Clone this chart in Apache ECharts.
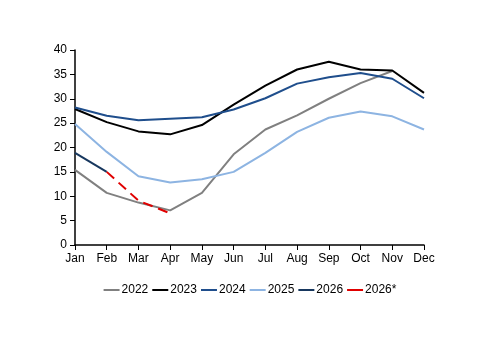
<!DOCTYPE html>
<html>
<head>
<meta charset="utf-8">
<script src="https://cdn.jsdelivr.net/npm/echarts@6/dist/echarts.min.js"></script>
<style>
html, body { margin: 0; padding: 0; background: #fff; }
#chart { width: 500px; height: 353px; }
</style>
</head>
<body>
<div id="chart"></div>
<script>
const months = ['Jan', 'Feb', 'Mar', 'Apr', 'May', 'Jun', 'Jul', 'Aug', 'Sep', 'Oct', 'Nov', 'Dec']
const y2022 = [15.4, 10.7, 8.7, 7.1, 10.7, 18.6, 23.7, 26.6, 30.0, 33.2, 35.7, null]
const y2023 = [27.9, 25.2, 23.3, 22.7, 24.6, 28.8, 32.7, 36.0, 37.6, 36.0, 35.8, 31.2]
const y2024 = [28.2, 26.5, 25.6, 25.9, 26.2, 27.8, 30.1, 33.1, 34.4, 35.3, 34.1, 30.1]
const y2025 = [24.8, 19.1, 14.1, 12.8, 13.5, 15.0, 18.9, 23.2, 26.1, 27.4, 26.4, 23.7]
const y2026 = [18.9, 15.0, null, null, null, null, null, null, null, null, null, null]
const y2026f = [null, 15.0, 9.1, 6.5, null, null, null, null, null, null, null, null]
const yTicks = [0, 5, 10, 15, 20, 25, 30, 35, 40]

const font = 'Liberation Sans'
const chart = echarts.init(document.getElementById('chart'))

function line (name, data, color, type) {
  return {
    name: name,
    type: 'line',
    data: data,
    symbol: 'none',
    lineStyle: { color: color, width: 2, type: type || 'solid' },
    itemStyle: { color: color },
    animation: false
  }
}

chart.setOption({
  animation: false,
  grid: { left: 75, right: 76, top: 50, bottom: 108 },
  legend: {
    bottom: 52,
    left: 'center',
    itemWidth: 16,
    itemHeight: 2,
    itemGap: 4,
    icon: 'rect',
    lineStyle: { type: 'solid' },
    textStyle: { fontFamily: font, fontSize: 12, color: '#000', padding: [0, 0, 0, -3] },
    data: ['2022', '2023', '2024', '2025', '2026', '2026*']
  },
  xAxis: {
    type: 'category',
    data: months,
    boundaryGap: false,
    axisLine: { lineStyle: { color: '#000', width: 1.5 } },
    axisTick: { show: true, length: 5, interval: 0, lineStyle: { color: '#000' } },
    axisLabel: { fontFamily: font, fontSize: 12, color: '#000', margin: 8, interval: 0 }
  },
  yAxis: {
    type: 'value',
    min: yTicks[0],
    max: yTicks[yTicks.length - 1],
    interval: 5,
    splitLine: { show: false },
    axisLine: { show: true, lineStyle: { color: '#000', width: 1.5 } },
    axisTick: { show: true, length: 5, lineStyle: { color: '#000' } },
    axisLabel: { fontFamily: font, fontSize: 12, color: '#000', margin: 8 }
  },
  series: [
    line('2022', y2022, '#808080'),
    line('2023', y2023, '#000000'),
    line('2024', y2024, '#1f4e8c'),
    line('2025', y2025, '#8db4e2'),
    line('2026', y2026, '#17375e'),
    line('2026*', y2026f, '#e00000', [10, 6])
  ]
})
</script>
</body>
</html>
